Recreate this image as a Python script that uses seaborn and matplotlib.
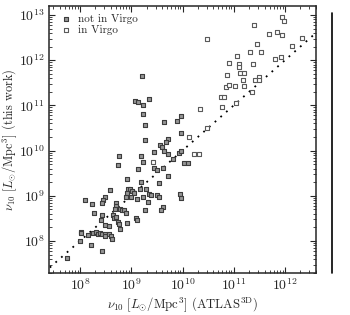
import numpy as np
import pandas as pd
import matplotlib
matplotlib.use("Agg")
import matplotlib.pyplot as plt
from matplotlib.lines import Line2D
import seaborn as sns

# log10 of nu_10 [L_sun/Mpc^3]
# not in Virgo
nv_atlas_log = [9.204, 9.073, 9.138, 9.346, 9.235, 9.223, 9.268, 9.629, 9.268, 9.707,
                9.668, 9.561, 9.590, 9.444, 9.645, 9.717, 8.761, 9.184, 9.820, 9.887,
                9.965, 9.965, 9.938, 9.971, 9.223, 8.736, 9.122, 9.444, 9.497, 9.610,
                9.711, 8.911, 9.190, 9.541, 9.180, 9.278, 8.585, 8.927, 8.976, 9.024,
                9.054, 8.917, 8.898, 8.989, 9.106, 9.235, 9.337, 9.376, 9.502, 9.547,
                9.327, 9.941, 9.965, 9.625, 9.575, 9.272, 9.083, 9.112, 8.098, 8.234,
                8.488, 8.443, 8.429, 8.697, 8.702, 8.689, 8.780, 8.820, 8.864, 8.888,
                8.267, 8.423, 8.410, 8.488, 8.566, 8.638, 8.663, 8.708, 8.732, 8.767,
                8.780, 8.907, 8.020, 8.020, 8.150, 8.260, 8.312, 8.345, 8.396, 8.429,
                8.482, 8.482, 8.572, 8.595, 8.624, 8.000, 8.209, 8.429, 7.740, 10.020,
                10.098]
nv_this_log = [11.657, 11.104, 11.082, 11.142, 11.015, 10.799, 10.566, 10.639, 10.235, 10.250,
               10.190, 10.124, 10.080, 9.976, 9.998, 9.931, 9.869, 9.869, 9.814, 10.661,
               10.772, 10.389, 9.940, 9.980, 9.737, 9.670, 9.593, 9.622, 9.571, 9.615,
               9.445, 9.361, 9.294, 9.283, 9.144, 9.150, 9.135, 9.139, 9.139, 9.095,
               9.051, 9.062, 8.973, 8.980, 8.929, 8.973, 9.035, 9.007, 9.013, 8.969,
               8.869, 9.046, 8.956, 8.759, 8.686, 8.686, 8.502, 8.465, 8.907, 8.812,
               8.967, 8.907, 8.834, 8.847, 8.774, 8.708, 8.708, 8.686, 8.692, 8.619,
               8.613, 8.569, 8.458, 8.343, 8.339, 8.569, 8.498, 8.520, 8.409, 8.376,
               8.265, 8.398, 8.206, 8.166, 8.126, 8.170, 8.192, 8.155, 8.170, 8.148,
               8.155, 8.104, 8.148, 8.111, 8.038, 7.993, 7.912, 7.779, 7.631, 9.715,
               9.715]
# in Virgo
v_atlas_log = [9.430, 10.133, 10.224, 10.328, 10.341, 10.484, 10.484, 10.745, 10.816, 10.765,
               11.044, 11.346, 10.849, 10.901, 11.019, 11.200, 11.180, 11.415, 11.487, 11.487,
               10.862, 11.122, 11.206, 10.913, 11.097, 11.097, 11.370, 11.811, 11.916, 11.058,
               11.323, 11.532, 11.448, 12.131, 12.326, 11.694, 11.850, 11.947, 11.395, 11.936,
               11.971]
v_this_log = [9.752, 10.308, 9.918, 9.918, 10.914, 10.493, 12.469, 11.179, 11.192, 10.971,
              11.060, 11.303, 11.400, 11.445, 11.436, 11.423, 11.569, 11.569, 11.635, 11.555,
              11.679, 11.717, 11.717, 11.938, 11.923, 11.856, 11.916, 12.027, 12.071, 12.093,
              12.175, 12.188, 12.358, 12.321, 12.498, 12.586, 12.617, 12.564, 12.785, 12.949,
              12.861]

groups = ["not in Virgo", "in Virgo"]

df = pd.DataFrame({
    "atlas": np.power(10.0, np.array(nv_atlas_log + v_atlas_log)),
    "this": np.power(10.0, np.array(nv_this_log + v_this_log)),
    "group": [groups[0]] * len(nv_atlas_log) + [groups[1]] * len(v_atlas_log),
})

sns.set_style("ticks")
plt.rcParams.update({
    "font.family": "serif",
    "font.serif": ["cmr10", "DejaVu Serif"],
    "mathtext.fontset": "cm",
    "axes.formatter.use_mathtext": True,
    "axes.unicode_minus": False,
    "xtick.direction": "in",
    "ytick.direction": "in",
    "xtick.top": True,
    "ytick.right": True,
    "axes.linewidth": 1.1,
})

fig = plt.figure(figsize=(3.5, 3.15), dpi=100)
ax = fig.add_axes([0.14, 0.1333, 0.763, 0.848])

ax.set_xscale("log")
ax.set_yscale("log")

lims_line = [10**7.3, 10**13.3]
ax.plot(lims_line, lims_line, color="black", linestyle=(0, (1, 3.2)), lw=1.3, zorder=1)

styles = {
    "not in Virgo": dict(facecolor="#959595", edgecolor="#3c3c3c"),
    "in Virgo": dict(facecolor="white", edgecolor="#5a5a5a"),
}
for g in groups:
    sub = df[df["group"] == g]
    sns.scatterplot(data=sub, x="atlas", y="this", ax=ax, marker="s", s=11,
                    linewidth=0.8, label=g, zorder=3, **styles[g])

ax.set_xlim(10**7.395, 10**12.605)
ax.set_ylim(10**7.29, 10**13.2)

ax.set_xlabel(r"$\nu_{10}\ [L_{\odot}/\mathrm{Mpc}^3]$ (ATLAS$^{\mathrm{3D}}$)", fontsize=9.2, labelpad=2)
ax.set_ylabel(r"$\nu_{10}\ [L_{\odot}/\mathrm{Mpc}^3]$ (this work)", fontsize=8.9)
ax.yaxis.set_label_coords(-0.112, 0.5)

ax.tick_params(which="major", length=4, width=0.8, labelsize=10, pad=3)
ax.tick_params(which="minor", length=2, width=0.6)
ax.xaxis.set_major_locator(matplotlib.ticker.LogLocator(base=10, numticks=20))
ax.yaxis.set_major_locator(matplotlib.ticker.LogLocator(base=10, numticks=20))
ax.xaxis.set_minor_locator(matplotlib.ticker.LogLocator(base=10, subs=np.arange(2, 10), numticks=50))
ax.yaxis.set_minor_locator(matplotlib.ticker.LogLocator(base=10, subs=np.arange(2, 10), numticks=50))
ax.xaxis.set_minor_formatter(matplotlib.ticker.NullFormatter())
ax.yaxis.set_minor_formatter(matplotlib.ticker.NullFormatter())

leg = ax.legend(loc="upper left", frameon=False, fontsize=8, handletextpad=0.3,
                borderaxespad=0.35, labelspacing=0.1, handlelength=1.6, markerscale=1.0)

fig.add_artist(Line2D([332 / 350, 332 / 350], [1 - 12.5 / 315, 1 - 273 / 315],
                      transform=fig.transFigure, color="black", lw=1.2))

fig.savefig("out.png", dpi=100)
